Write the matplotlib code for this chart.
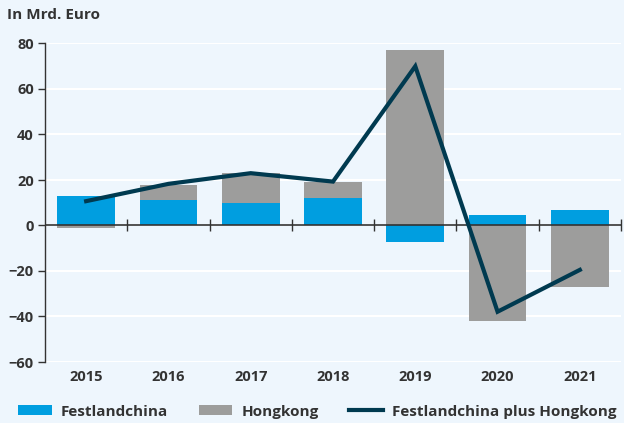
import matplotlib
matplotlib.use("Agg")
import matplotlib.pyplot as plt
from matplotlib.patches import Patch
from matplotlib.lines import Line2D
import numpy as np

years = ["2015", "2016", "2017", "2018", "2019", "2020", "2021"]
festland = [13.0, 11.4, 9.7, 12.3, -7.3, 4.4, 7.0]
hongkong = [-1.2, 6.6, 13.2, 6.7, 77.1, -41.8, -26.9]
total = [10.7, 18.3, 23.0, 19.3, 70.0, -37.9, -19.5]
yticks = [-60, -40, -20, 0, 20, 40, 60, 80]

BG = "#EEF6FD"
BLUE = "#009EE0"
GRAY = "#9D9D9C"
DARK = "#003A50"
TXT = "#333333"

plt.rcParams['font.family'] = ['Open Sans', 'DejaVu Sans']
plt.rcParams['font.weight'] = 'bold'

fig = plt.figure(figsize=(6.24, 4.23), dpi=100, facecolor=BG)
ax = fig.add_axes([45/624, (423-362)/423, (621-45)/624, (362-43.5)/423])
ax.set_facecolor(BG)

x = np.arange(len(years))
fl = np.array(festland)
hk = np.array(hongkong)
w = 0.7
fl_base = np.zeros_like(fl)
hk_base = np.where(np.sign(hk) == np.sign(fl), fl, 0.0)
ax.bar(x, fl, w, bottom=fl_base, color=BLUE, zorder=2)
ax.bar(x, hk, w, bottom=hk_base, color=GRAY, zorder=2)
ax.plot(x, total, color=DARK, lw=3, zorder=4, solid_joinstyle='miter')

ax.set_xlim(-0.5, len(years) - 0.5)
ax.set_ylim(-60, 80)
ax.set_yticks(yticks)
ax.set_yticklabels([str(v).replace('-', '\u2212') for v in yticks], fontsize=10.5, color=TXT, fontweight='bold')
ax.yaxis.grid(True, color='white', lw=1.5, zorder=0)
ax.set_axisbelow(True)
ax.tick_params(axis='y', length=5, width=1, color='#333333', pad=3)

ax.set_xticks(x)
ax.set_xticklabels(years, fontsize=10.5, color=TXT, fontweight='bold')
ax.tick_params(axis='x', length=0, pad=6)

for s in ['top', 'right', 'bottom']:
    ax.spines[s].set_visible(False)
ax.spines['left'].set_color('#333333')
ax.spines['left'].set_linewidth(1)

ax.axhline(0, color='#333333', lw=1.2, zorder=3)
bx = np.arange(len(years)) + 0.5
ax.plot(bx, np.zeros_like(bx), linestyle='none', marker='|', color='#333333',
        markersize=8, markeredgewidth=1, zorder=3, clip_on=False)

fig.text(7/624, 1 - 15/423, "In Mrd. Euro", fontsize=11, fontweight='bold', color=TXT, va='center', ha='left')

handles = [Patch(facecolor=BLUE, edgecolor='none'),
           Patch(facecolor=GRAY, edgecolor='none'),
           Line2D([0], [0], color=DARK, lw=3)]
labels = ["Festlandchina", "Hongkong", "Festlandchina plus Hongkong"]
fig.legend(handles, labels, loc='lower left', bbox_to_anchor=(0.012, -0.015), ncol=3,
           frameon=False, prop={'size': 11, 'weight': 'bold'}, labelcolor=TXT,
           handlelength=2.2, handleheight=0.65, handletextpad=0.6, columnspacing=2.0,
           borderaxespad=0.3)

fig.savefig("out.png", dpi=100, facecolor=BG)
